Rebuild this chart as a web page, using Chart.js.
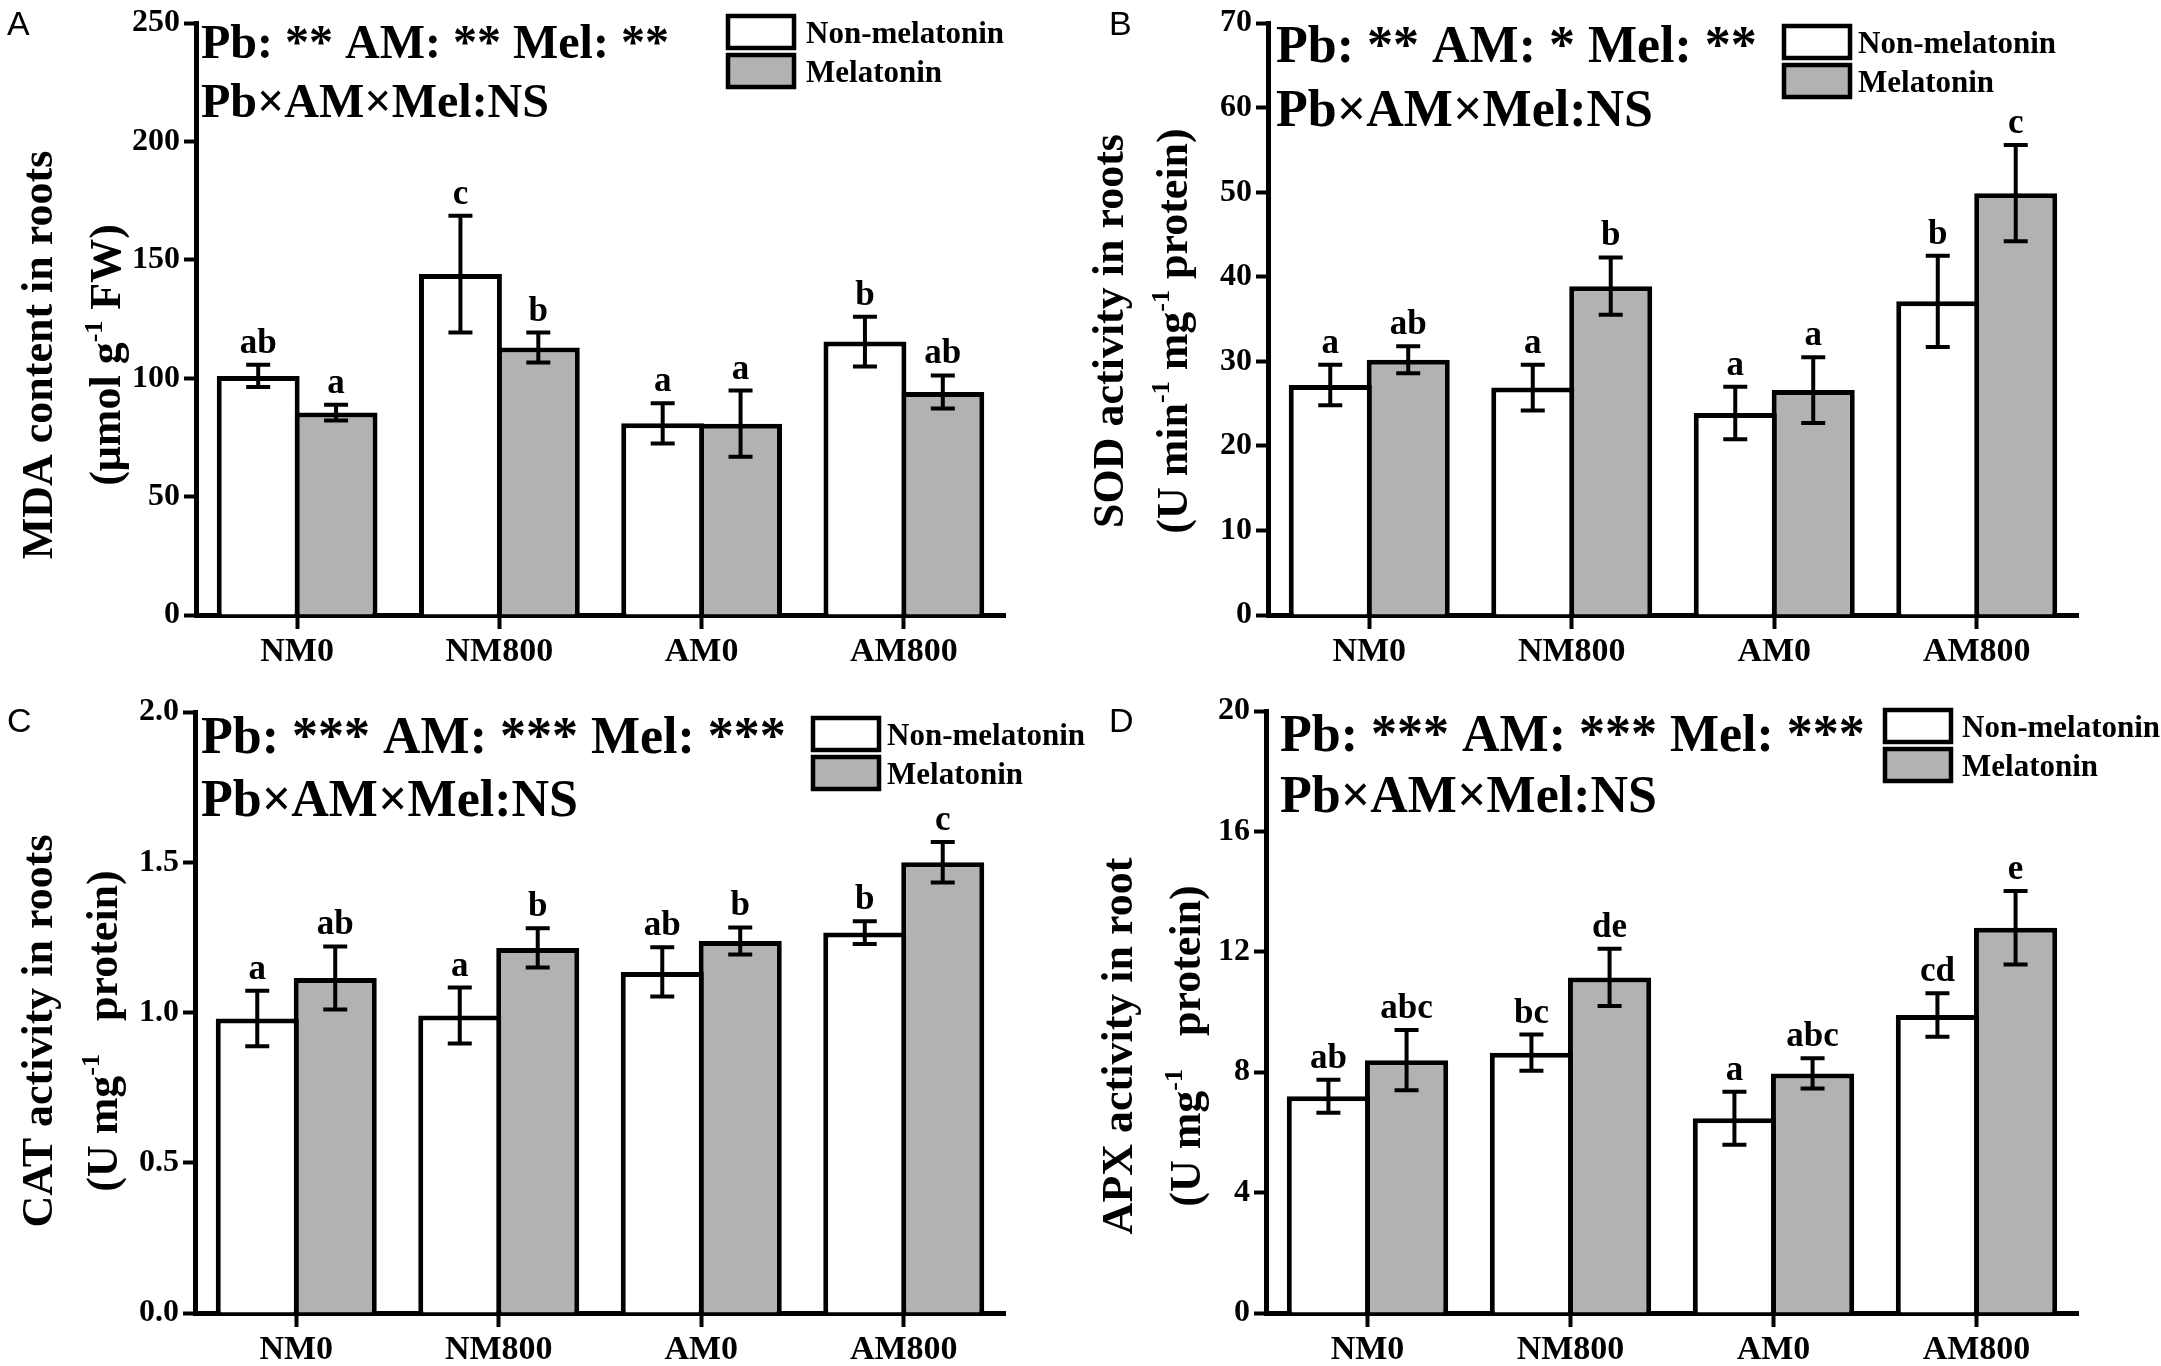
<!DOCTYPE html>
<html lang="en">
<head>
<meta charset="UTF-8">
<title>Root MDA, SOD, CAT and APX</title>
<script src="https://cdn.jsdelivr.net/npm/chart.js"></script>
<style>
    body {
        margin: 0;
        background: #ffffff;
        width: 2161px;
        height: 1366px;
        position: relative;
        overflow: hidden;
    }
    .panel {
        position: absolute;
    }
</style>
</head>
<body>
<script>
const groups = ['NM0', 'NM800', 'AM0', 'AM800'];
const seriesNames = ['Non-melatonin', 'Melatonin'];

// A: MDA content in roots
const mdaNon = [101, 144, 81, 115.5];
const mdaNonErr = [4.7, 24.7, 8.5, 10.5];
const mdaMel = [85.5, 113, 80.8, 94.2];
const mdaMelErr = [3.3, 6.3, 14, 7];
const mdaNonSig = ['ab', 'c', 'a', 'b'];
const mdaMelSig = ['a', 'b', 'a', 'ab'];
const mdaTicks = [0, 50, 100, 150, 200, 250];
const mdaTickLabels = ['0', '50', '100', '150', '200', '250'];

// B: SOD activity in roots
const sodNon = [27.2, 26.9, 23.9, 37.1];
const sodNonErr = [2.4, 2.7, 3.1, 5.4];
const sodMel = [30.2, 38.9, 26.6, 49.9];
const sodMelErr = [1.6, 3.4, 3.9, 5.7];
const sodNonSig = ['a', 'a', 'a', 'b'];
const sodMelSig = ['ab', 'b', 'a', 'c'];
const sodTicks = [0, 10, 20, 30, 40, 50, 60, 70];
const sodTickLabels = ['0', '10', '20', '30', '40', '50', '60', '70'];

// C: CAT activity in roots
const catNon = [0.98, 0.99, 1.135, 1.266];
const catNonErr = [0.092, 0.093, 0.082, 0.038];
const catMel = [1.115, 1.215, 1.238, 1.5];
const catMelErr = [0.105, 0.065, 0.045, 0.067];
const catNonSig = ['a', 'a', 'ab', 'b'];
const catMelSig = ['ab', 'b', 'b', 'c'];
const catTicks = [0, 0.5, 1, 1.5, 2];
const catTickLabels = ['0.0', '0.5', '1.0', '1.5', '2.0'];

// D: APX activity in root
const apxNon = [7.2, 8.65, 6.47, 9.9];
const apxNonErr = [0.55, 0.6, 0.88, 0.72];
const apxMel = [8.4, 11.15, 7.96, 12.8];
const apxMelErr = [1.0, 0.95, 0.5, 1.22];
const apxNonSig = ['ab', 'bc', 'a', 'cd'];
const apxMelSig = ['abc', 'de', 'abc', 'e'];
const apxTicks = [0, 4, 8, 12, 16, 20];
const apxTickLabels = ['0', '4', '8', '12', '16', '20'];

const SERIF = "'Liberation Serif', 'Times New Roman', serif";
const SANS = "'Liberation Sans', Arial, sans-serif";
const GRAY = '#b2b2b2';

const panels = [
    {
        letter: 'A', x: 0, y: 0, w: 1080, h: 686, left: 196, right: 1005, top: 15, bottom: 615,
        non: mdaNon, nonErr: mdaNonErr, mel: mdaMel, melErr: mdaMelErr,
        nonSig: mdaNonSig, melSig: mdaMelSig, ticks: mdaTicks, tickLabels: mdaTickLabels,
        stats: ['Pb: ** AM: ** Mel: **', 'Pb×AM×Mel:NS'], statSize: 48, statX: 201, statY: [58, 117],
        title: [
            [{ t: 'MDA content in roots' }],
            [{ t: '(μmol g' }, { t: '-1', sup: true }, { t: ' FW)' }]
        ],
        titleX: [52, 120], titleY: 355,
        letterX: 7, letterY: 35,
        legendX: 726, legendY: 14, legendTextX: 806
    },
    {
        letter: 'B', x: 1080, y: 0, w: 1081, h: 686, left: 188, right: 998, top: 15, bottom: 615,
        non: sodNon, nonErr: sodNonErr, mel: sodMel, melErr: sodMelErr,
        nonSig: sodNonSig, melSig: sodMelSig, ticks: sodTicks, tickLabels: sodTickLabels,
        stats: ['Pb: ** AM: * Mel: **', 'Pb×AM×Mel:NS'], statSize: 52, statX: 196, statY: [62, 126],
        title: [
            [{ t: 'SOD activity in roots' }],
            [{ t: '(U min' }, { t: '-1', sup: true }, { t: ' mg' }, { t: '-1', sup: true }, { t: ' protein)' }]
        ],
        titleX: [43, 107], titleY: 331,
        letterX: 29, letterY: 35,
        legendX: 702, legendY: 24, legendTextX: 778
    },
    {
        letter: 'C', x: 0, y: 686, w: 1100, h: 680, left: 195, right: 1005, top: 26, bottom: 627,
        non: catNon, nonErr: catNonErr, mel: catMel, melErr: catMelErr,
        nonSig: catNonSig, melSig: catMelSig, ticks: catTicks, tickLabels: catTickLabels,
        stats: ['Pb: *** AM: *** Mel: ***', 'Pb×AM×Mel:NS'], statSize: 52, statX: 201, statY: [67, 130],
        title: [
            [{ t: 'CAT activity in roots' }],
            [{ t: '(U mg' }, { t: '-1', sup: true }, { t: '   protein)' }]
        ],
        titleX: [52, 117], titleY: 345,
        letterX: 7, letterY: 46,
        legendX: 811, legendY: 30, legendTextX: 887
    },
    {
        letter: 'D', x: 1080, y: 686, w: 1081, h: 680, left: 186, right: 998, top: 25, bottom: 627,
        non: apxNon, nonErr: apxNonErr, mel: apxMel, melErr: apxMelErr,
        nonSig: apxNonSig, melSig: apxMelSig, ticks: apxTicks, tickLabels: apxTickLabels,
        stats: ['Pb: *** AM: *** Mel: ***', 'Pb×AM×Mel:NS'], statSize: 52, statX: 200, statY: [65, 126],
        title: [
            [{ t: 'APX activity in root' }],
            [{ t: '(U mg' }, { t: '-1', sup: true }, { t: '   protein)' }]
        ],
        titleX: [52, 120], titleY: 360,
        letterX: 29, letterY: 46,
        legendX: 803, legendY: 22, legendTextX: 882
    }
];

function serif(size) {
    return 'bold ' + size + 'px ' + SERIF;
}

// one rotated line with superscripts, centred on 0
function drawRich(ctx, parts, size) {
    let total = 0;
    parts.forEach(p => {
        ctx.font = serif(p.sup ? Math.round(size * 0.6) : size);
        p.w = ctx.measureText(p.t).width;
        total += p.w;
    });
    let x = -total / 2;
    parts.forEach(p => {
        ctx.font = serif(p.sup ? Math.round(size * 0.6) : size);
        ctx.fillText(p.t, x, p.sup ? -size * 0.42 : 0);
        x += p.w;
    });
}

function makePanel(p) {
    const box = document.createElement('div');
    box.className = 'panel';
    box.style.left = p.x + 'px';
    box.style.top = p.y + 'px';
    box.style.width = p.w + 'px';
    box.style.height = p.h + 'px';
    const canvas = document.createElement('canvas');
    box.appendChild(canvas);
    document.body.appendChild(box);

    const errs = [p.nonErr, p.melErr];
    const sigs = [p.nonSig, p.melSig];

    const errorBars = {
        id: 'errorBars',
        afterDatasetsDraw(chart) {
            const ctx = chart.ctx;
            const yScale = chart.scales.y;
            ctx.save();
            ctx.strokeStyle = '#000';
            ctx.fillStyle = '#000';
            ctx.lineWidth = 4;
            ctx.textAlign = 'center';
            ctx.textBaseline = 'alphabetic';
            ctx.font = serif(35);
            chart.data.datasets.forEach((ds, d) => {
                chart.getDatasetMeta(d).data.forEach((bar, i) => {
                    const v = ds.data[i];
                    const e = errs[d][i];
                    const yTop = yScale.getPixelForValue(v + e);
                    const yBot = yScale.getPixelForValue(v - e);
                    ctx.beginPath();
                    ctx.moveTo(bar.x, yTop);
                    ctx.lineTo(bar.x, yBot);
                    ctx.moveTo(bar.x - 12, yTop);
                    ctx.lineTo(bar.x + 12, yTop);
                    ctx.moveTo(bar.x - 12, yBot);
                    ctx.lineTo(bar.x + 12, yBot);
                    ctx.stroke();
                    ctx.fillText(sigs[d][i], bar.x, yTop - 12);
                });
            });
            ctx.restore();
        }
    };

    const panelText = {
        id: 'panelText',
        afterDraw(chart) {
            const ctx = chart.ctx;
            ctx.save();
            ctx.fillStyle = '#000';
            ctx.textBaseline = 'alphabetic';

            // panel letter
            ctx.font = '34px ' + SANS;
            ctx.textAlign = 'left';
            ctx.fillText(p.letter, p.letterX, p.letterY);

            // statistics
            ctx.font = serif(p.statSize);
            p.stats.forEach((s, i) => ctx.fillText(s, p.statX, p.statY[i]));

            // legend
            const fills = ['#ffffff', GRAY];
            seriesNames.forEach((name, i) => {
                const by = p.legendY + i * 39;
                ctx.fillStyle = fills[i];
                ctx.fillRect(p.legendX, by, 70, 36);
                ctx.strokeStyle = '#000';
                ctx.lineWidth = 4.5;
                ctx.strokeRect(p.legendX + 2, by + 2, 66, 32);
                ctx.fillStyle = '#000';
                ctx.font = serif(31);
                ctx.fillText(name, p.legendTextX, by + 29);
            });

            // y axis title
            p.title.forEach((line, i) => {
                ctx.save();
                ctx.translate(p.titleX[i], p.titleY);
                ctx.rotate(-Math.PI / 2);
                drawRich(ctx, line.map(part => Object.assign({}, part)), 44);
                ctx.restore();
            });
            ctx.restore();
        }
    };

    new Chart(canvas, {
        type: 'bar',
        data: {
            labels: groups,
            datasets: [
                {
                    label: seriesNames[0],
                    data: p.non,
                    backgroundColor: '#ffffff',
                    borderColor: '#000',
                    borderWidth: 5,
                    barPercentage: 1.065,
                    categoryPercentage: 0.77
                },
                {
                    label: seriesNames[1],
                    data: p.mel,
                    backgroundColor: GRAY,
                    borderColor: '#000',
                    borderWidth: 5,
                    barPercentage: 1.065,
                    categoryPercentage: 0.77
                }
            ]
        },
        options: {
            responsive: true,
            maintainAspectRatio: false,
            animation: false,
            events: [],
            layout: {
                padding: { left: 0, top: p.top, right: p.w - p.right, bottom: 0 }
            },
            plugins: {
                legend: { display: false },
                tooltip: { enabled: false }
            },
            scales: {
                x: {
                    afterFit: s => { s.height = p.h - p.bottom; },
                    grid: {
                        offset: false,
                        drawOnChartArea: false,
                        tickLength: 14,
                        tickWidth: 4,
                        tickColor: '#000'
                    },
                    border: { display: true, color: '#000', width: 5 },
                    ticks: {
                        color: '#000',
                        padding: 3,
                        maxRotation: 0,
                        font: { family: SERIF, size: 34, weight: 'bold' }
                    }
                },
                y: {
                    min: p.ticks[0],
                    max: p.ticks[p.ticks.length - 1],
                    afterFit: s => { s.width = p.left; },
                    afterBuildTicks: s => { s.ticks = p.ticks.map(v => ({ value: v })); },
                    grid: {
                        drawOnChartArea: false,
                        tickLength: 12,
                        tickWidth: 4,
                        tickColor: '#000'
                    },
                    border: { display: true, color: '#000', width: 5 },
                    ticks: {
                        color: '#000',
                        padding: 4,
                        font: { family: SERIF, size: 32, weight: 'bold' },
                        callback: v => p.tickLabels[p.ticks.indexOf(v)]
                    }
                }
            }
        },
        plugins: [errorBars, panelText]
    });
}

panels.forEach(makePanel);
</script>
</body>
</html>
